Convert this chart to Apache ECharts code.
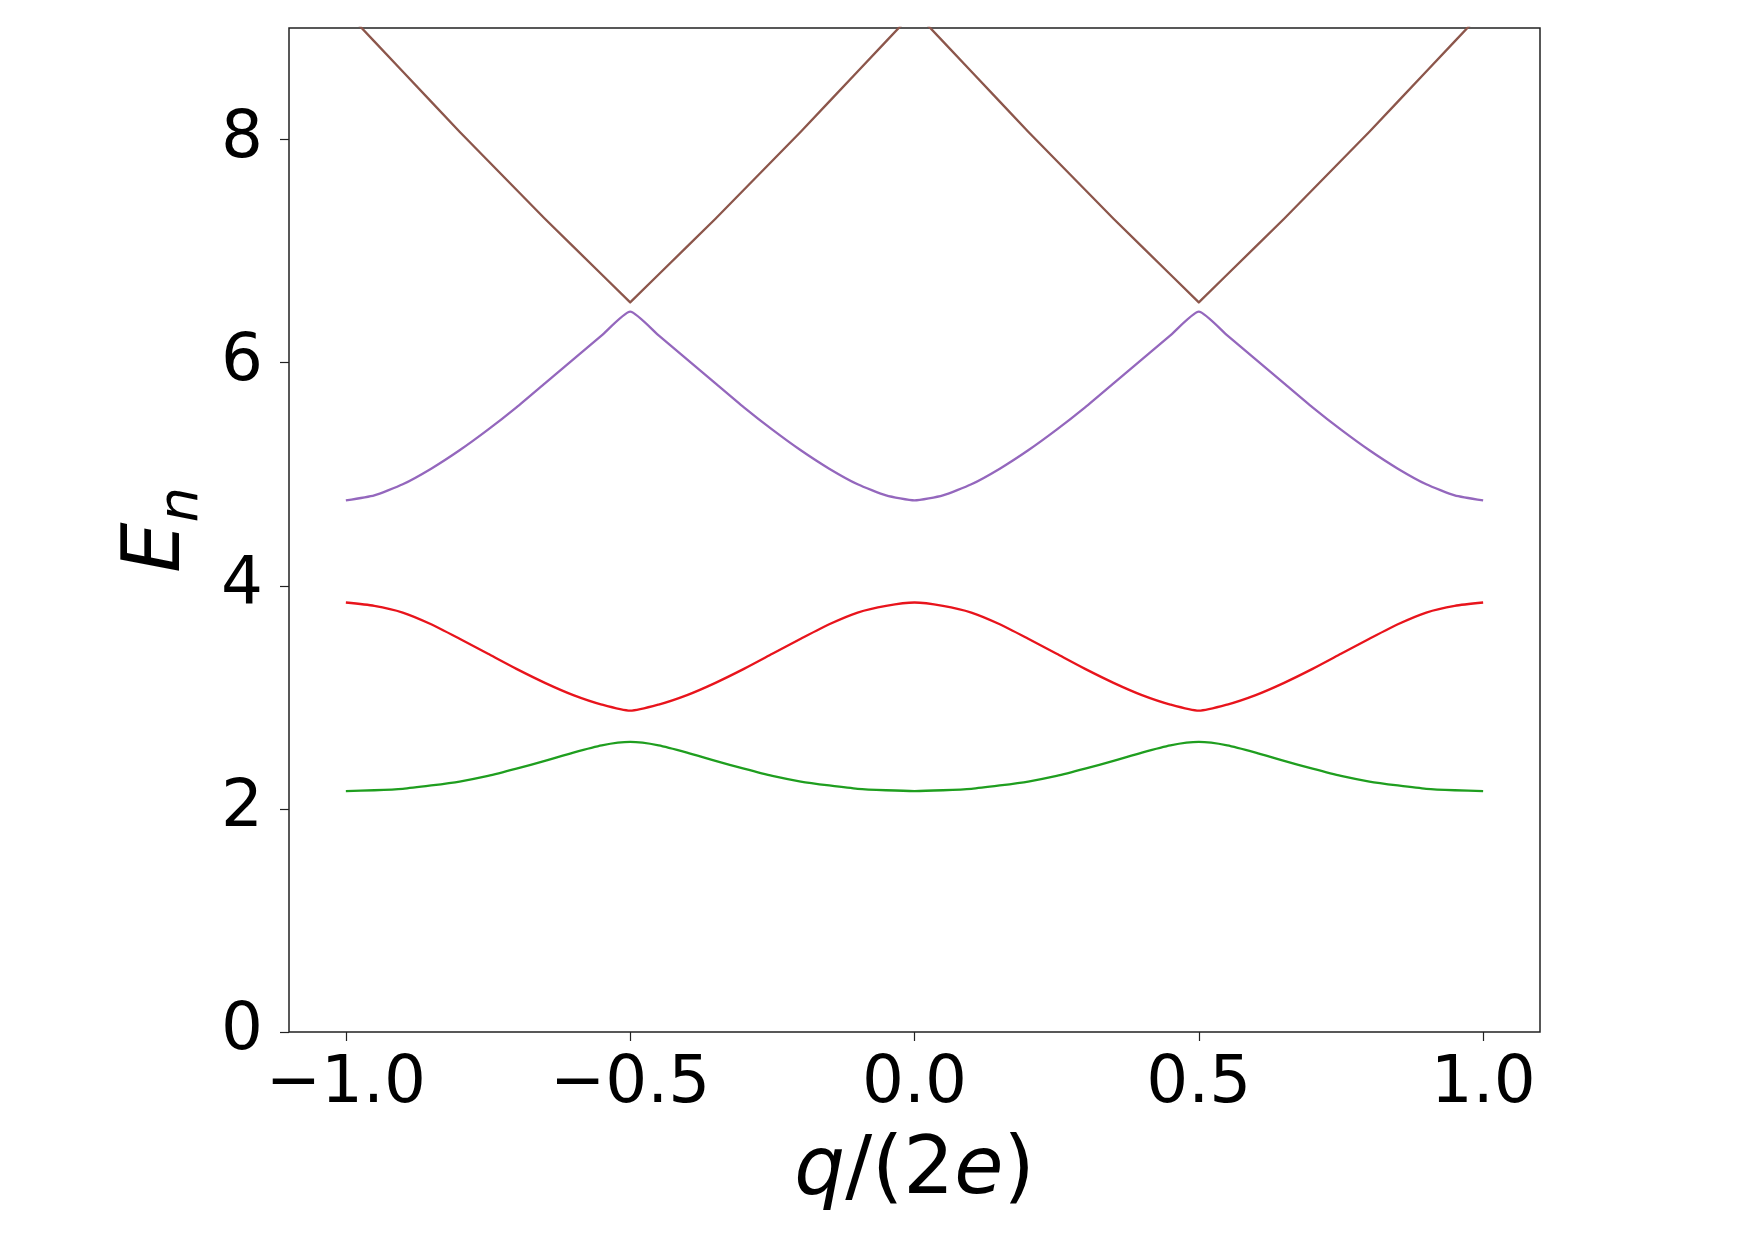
<!DOCTYPE html>
<html>
<head>
<meta charset="utf-8">
<script src="https://cdn.jsdelivr.net/npm/echarts@6/dist/echarts.min.js"></script>
<style>
html,body{margin:0;padding:0;background:#fff;}
#chart{width:1755px;height:1240px;}
</style>
</head>
<body>
<div id="chart"></div>
<script>
// q/(2e) sample points
const qValues = [-1.0,-0.95,-0.9,-0.85,-0.8,-0.75,-0.7,-0.65,-0.6,-0.55,-0.5,
  -0.45,-0.4,-0.35,-0.3,-0.25,-0.2,-0.15,-0.1,-0.05,0.0,
  0.05,0.1,0.15,0.2,0.25,0.3,0.35,0.4,0.45,0.5,
  0.55,0.6,0.65,0.7,0.75,0.8,0.85,0.9,0.95,1.0];

// energy bands E_n
const bandGreen = [2.16,2.167,2.18,2.21,2.245,2.295,2.36,2.43,2.505,2.57,2.60,
  2.57,2.505,2.43,2.36,2.295,2.245,2.21,2.18,2.167,2.16,
  2.167,2.18,2.21,2.245,2.295,2.36,2.43,2.505,2.57,2.60,
  2.57,2.505,2.43,2.36,2.295,2.245,2.21,2.18,2.167,2.16];
const bandRed = [3.85,3.82,3.76,3.655,3.525,3.39,3.255,3.13,3.02,2.935,2.88,
  2.935,3.02,3.13,3.255,3.39,3.525,3.655,3.76,3.82,3.85,
  3.82,3.76,3.655,3.525,3.39,3.255,3.13,3.02,2.935,2.88,
  2.935,3.02,3.13,3.255,3.39,3.525,3.655,3.76,3.82,3.85];
const bandPurple = [4.765,4.81,4.91,5.05,5.215,5.40,5.60,5.815,6.03,6.245,6.457,
  6.245,6.03,5.815,5.60,5.40,5.215,5.05,4.91,4.81,4.765,
  4.81,4.91,5.05,5.215,5.40,5.60,5.815,6.03,6.245,6.457,
  6.245,6.03,5.815,5.60,5.40,5.215,5.05,4.91,4.81,4.765];
const bandBrown = [9.15,8.88,8.61,8.34,8.07,7.81,7.55,7.29,7.04,6.79,6.54,
  6.79,7.04,7.29,7.55,7.81,8.07,8.34,8.61,8.88,9.15,
  8.88,8.61,8.34,8.07,7.81,7.55,7.29,7.04,6.79,6.54,
  6.79,7.04,7.29,7.55,7.81,8.07,8.34,8.61,8.88,9.15];

const xTickValues = [-1.0,-0.5,0.0,0.5,1.0];
const xTickLabels = ['\u22121.0','\u22120.5','0.0','0.5','1.0'];
const yTickValues = [0,2,4,6,8];
const yTickLabels = ['0','2','4','6','8'];

const bands = [
  {name:'E2', data:bandGreen, color:'#1f9e1f', smooth:0.22},
  {name:'E3', data:bandRed, color:'#e8141c', smooth:0.22},
  {name:'E4', data:bandPurple, color:'#9467bd', smooth:0.18},
  {name:'E5', data:bandBrown, color:'#8c564b', smooth:false}
];

const FONT = 'DejaVu Sans';
const chart = echarts.init(document.getElementById('chart'), null, {renderer:'canvas'});
const option = {
  backgroundColor:'#ffffff',
  animation:false,
  grid:{left:289, right:215, top:28, bottom:208, containLabel:false, outerBoundsMode:'none',
        show:true, borderColor:'#222', borderWidth:1.5, backgroundColor:'transparent'},
  xAxis:{
    type:'value', min:-1.1, max:1.1,
    axisLine:{show:false, onZero:false},
    splitLine:{show:false},
    axisTick:{show:true, inside:false, length:9, lineStyle:{color:'#222', width:1.2}, customValues:xTickValues},
    axisLabel:{show:true, customValues:xTickValues, margin:20, fontFamily:FONT, fontSize:66, color:'#000',
      formatter:function(v){ const i = xTickValues.findIndex(t=>Math.abs(t-v)<1e-9); return i>=0?xTickLabels[i]:''; }},
    name:'{i|q}{u|/(2}{i|e}{u|)}',
    nameLocation:'middle', nameGap:100,
    nameTextStyle:{fontFamily:FONT, fontSize:80, color:'#000',
      rich:{i:{fontFamily:FONT, fontStyle:'italic', fontSize:80, color:'#000'},
            u:{fontFamily:FONT, fontSize:80, color:'#000'}}}
  },
  yAxis:{
    type:'value', min:0, max:9,
    axisLine:{show:false, onZero:false},
    splitLine:{show:false},
    axisTick:{show:true, inside:false, length:9, lineStyle:{color:'#222', width:1.2}, customValues:yTickValues},
    axisLabel:{show:true, customValues:yTickValues, margin:26, fontFamily:FONT, fontSize:66, color:'#000',
      formatter:function(v){ const i = yTickValues.indexOf(v); return i>=0?yTickLabels[i]:''; }},
    name:'{e|E}{n|n}',
    nameLocation:'middle', nameRotate:90, nameGap:84,
    nameTextStyle:{fontFamily:FONT, fontSize:80, color:'#000',
      rich:{e:{fontFamily:FONT, fontStyle:'italic', fontSize:80, lineHeight:80, verticalAlign:'top', color:'#000'},
            n:{fontFamily:FONT, fontStyle:'italic', fontSize:56, lineHeight:56, verticalAlign:'top', padding:[36,0,0,0], color:'#000'}}}
  },
  series: bands.map(b => ({
    type:'line', name:b.name, showSymbol:false, symbol:'none', smooth:b.smooth, clip:true,
    data: qValues.map((q,i)=>[q, b.data[i]]),
    lineStyle:{color:b.color, width:2.3, join:'round'},
    itemStyle:{color:b.color}
  }))
};
chart.setOption(option);
</script>
</body>
</html>
